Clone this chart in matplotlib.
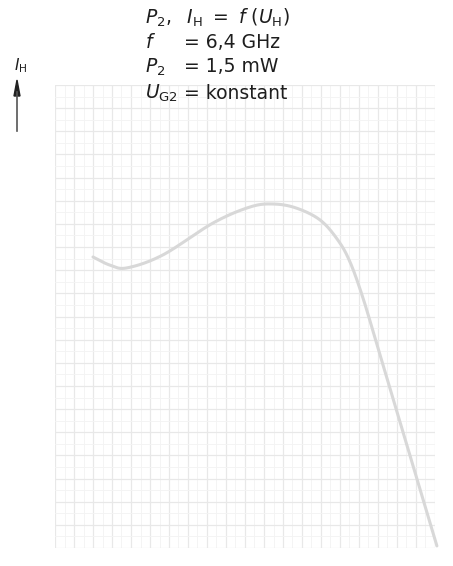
import numpy as np
import matplotlib.pyplot as plt
from matplotlib.ticker import MultipleLocator

plt.rcParams['font.family'] = ['DejaVu Sans']
plt.rcParams['mathtext.fontset'] = 'dejavusans'

# characteristic I_H over U_H (arbitrary grid units)
u_h = [2.0, 2.89, 3.79, 5.68, 8.32, 10.26, 11.47, 12.68, 13.95, 14.89, 15.53, 16.21, 16.95, 18.16, 20.1]
i_h = [12.57, 12.22, 12.10, 12.66, 14.04, 14.73, 14.86, 14.69, 14.17, 13.30, 12.35, 10.80, 8.77, 5.44, 0.09]

header_left = [r"$P_2,\ \ I_\mathrm{H}\ =\ f\ (U_\mathrm{H})$", r"$f$", r"$P_2$", r"$U_\mathrm{G2}$"]
header_right = ["", "= 6,4 GHz", "= 1,5 mW", "= konstant"]


def catmull_rom(x, y, n=30):
    # smooth curve passing through every given point
    p = np.column_stack([x, y]).astype(float)
    p = np.vstack([2 * p[0] - p[1], p, 2 * p[-1] - p[-2]])
    out = []
    s = np.linspace(0, 1, n, endpoint=False)[:, None]
    for i in range(1, len(p) - 2):
        p0, p1, p2, p3 = p[i - 1], p[i], p[i + 1], p[i + 2]
        out.append(0.5 * (2 * p1 + (-p0 + p2) * s + (2 * p0 - 5 * p1 + 4 * p2 - p3) * s ** 2
                          + (-p0 + 3 * p1 - 3 * p2 + p3) * s ** 3))
    out.append(p[-2][None, :])
    out = np.vstack(out)
    return out[:, 0], out[:, 1]


W, H = 453, 566
fig = plt.figure(figsize=(W / 100, H / 100), dpi=100)

ax = fig.add_axes([55 / W, 1 - 548 / H, 380 / W, 463 / H])
ax.set_xlim(0, 20)
ax.set_ylim(0, 20)
ax.xaxis.set_major_locator(MultipleLocator(1))
ax.yaxis.set_major_locator(MultipleLocator(1))
ax.xaxis.set_minor_locator(MultipleLocator(0.5))
ax.yaxis.set_minor_locator(MultipleLocator(0.5))
ax.grid(which='major', color='#e8e8e8', lw=0.9)
ax.grid(which='minor', color='#f3f3f3', lw=0.6)
ax.tick_params(which='both', length=0, labelbottom=False, labelleft=False)
for s in ax.spines.values():
    s.set_visible(False)

xs, ys = catmull_rom(u_h, i_h)
ax.plot(xs, ys, color='#d8d8d8', lw=2.2, solid_capstyle='round', clip_on=False)

# header text
tc = '#1e1e1e'
fs = 13.5
ys_txt = [18, 42, 67, 93]
for yl, l, r in zip(ys_txt, header_left, header_right):
    fig.text(145 / W, 1 - yl / H, l, fontsize=fs, color=tc, va='center', ha='left')
    if r:
        fig.text(184 / W, 1 - yl / H, r, fontsize=fs, color=tc, va='center', ha='left')

# axis label with arrow
fig.text(21 / W, 1 - 66 / H, r"$I_\mathrm{H}$", fontsize=11, color=tc, ha='center', va='center')
fig.add_artist(plt.Line2D([17 / W, 17 / W], [1 - 131 / H, 1 - 92 / H], color='#555555', lw=1.2))
fig.patches.append(plt.Polygon([[14 / W, 1 - 96 / H], [20 / W, 1 - 96 / H], [17 / W, 1 - 80 / H]],
                               closed=True, color='#222222', transform=fig.transFigure))

fig.savefig('out.png', dpi=100)
